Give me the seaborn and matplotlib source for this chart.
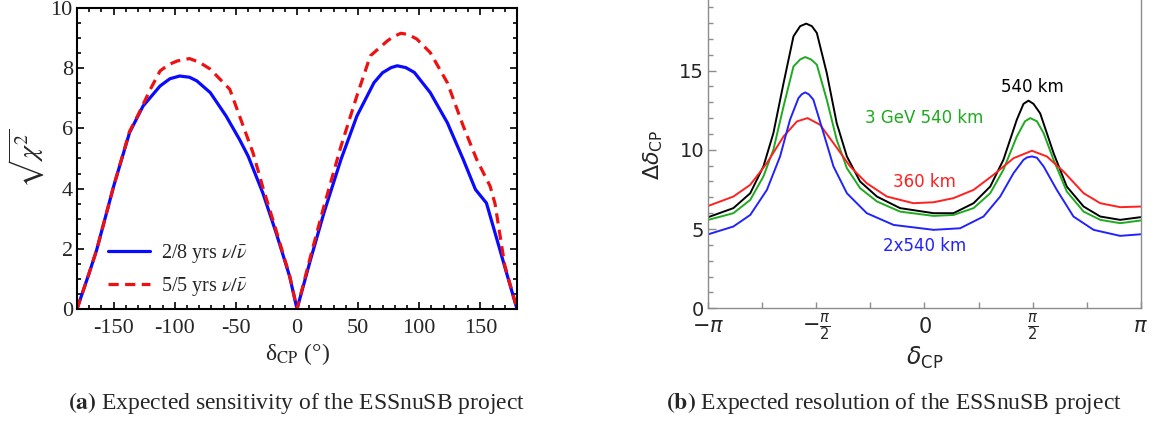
import numpy as np
import pandas as pd
import matplotlib
matplotlib.use("Agg")
import matplotlib.pyplot as plt
import seaborn as sns
from matplotlib.ticker import MultipleLocator, FixedLocator, FixedFormatter
from matplotlib.font_manager import FontProperties

# ---------------- data: panel (a) ----------------
deg_28 = [-180, -170, -164, -150, -137, -126, -112, -104, -96, -88, -82, -71, -58,
          -47, -40, -28, -17, -6, 0, 11, 22, 36, 49, 63, 70, 77, 82, 89, 96, 109,
          123, 136, 146, 155, 166, 170, 180]
chi_28 = [0, 1.2, 1.95, 4.08, 5.86, 6.74, 7.41, 7.65, 7.74, 7.7, 7.58, 7.19, 6.41,
          5.63, 5.08, 3.86, 2.52, 1.08, 0, 1.63, 3.19, 4.97, 6.41, 7.52, 7.85, 8.02,
          8.08, 8.02, 7.86, 7.19, 6.19, 4.97, 3.97, 3.52, 1.97, 1.4, 0]
deg_55 = [-180, -170, -164, -150, -137, -130, -120, -112, -105, -98, -88, -80, -71,
          -55, -47, -36, -28, -17, -6, 0, 11, 22, 36, 49, 60, 74, 79, 85, 91, 98,
          109, 123, 136, 147, 158, 162, 170, 180]
chi_55 = [0, 1.2, 1.95, 4.08, 5.9, 6.45, 7.3, 7.91, 8.12, 8.24, 8.32, 8.2, 7.97,
          7.3, 6.41, 5.19, 4.05, 2.6, 1.1, 0, 1.74, 3.41, 5.41, 7.08, 8.41, 8.91,
          9.05, 9.16, 9.12, 8.97, 8.52, 7.52, 6.08, 4.97, 4.08, 3.5, 1.45, 0]
label_28 = r"2/8 yrs $\nu/\bar{\nu}$"
label_55 = r"5/5 yrs $\nu/\bar{\nu}$"
xticks_a = [-150, -100, -50, 0, 50, 100, 150]
yticks_a = [0, 2, 4, 6, 8, 10]

# ---------------- data: panel (b) (x in units of pi) ----------------
u_540 = [-1, -0.884, -0.806, -0.745, -0.699, -0.652, -0.606, -0.575, -0.547, -0.521,
         -0.498, -0.452, -0.406, -0.359, -0.298, -0.22, -0.113, 0.042, 0.134, 0.227,
         0.304, 0.365, 0.427, 0.458, 0.481, 0.504, 0.535, 0.597, 0.658, 0.736,
         0.813, 0.905, 1]
d_540 = [5.75, 6.32, 7.26, 8.95, 11.05, 14.2, 17.16, 17.8, 17.96, 17.8, 17.37,
         14.84, 11.68, 9.58, 8.0, 7.05, 6.32, 6.0, 6.0, 6.63, 7.68, 9.37, 11.9,
         12.9, 13.1, 12.9, 12.3, 9.79, 7.68, 6.42, 5.79, 5.58, 5.75]
u_3gev = [-1, -0.884, -0.806, -0.745, -0.699, -0.652, -0.606, -0.575, -0.552, -0.525,
          -0.498, -0.452, -0.406, -0.359, -0.298, -0.22, -0.113, 0.042, 0.134, 0.227,
          0.304, 0.365, 0.427, 0.465, 0.489, 0.52, 0.551, 0.597, 0.658, 0.736,
          0.813, 0.905, 1]
d_3gev = [5.58, 6.0, 6.84, 8.32, 10.0, 12.74, 15.26, 15.7, 15.85, 15.7, 15.37,
          13.16, 10.63, 8.84, 7.58, 6.74, 6.1, 5.83, 5.89, 6.32, 7.26, 8.74, 10.84,
          11.8, 12.0, 11.8, 11.05, 9.37, 7.37, 6.1, 5.58, 5.37, 5.54]
u_360 = [-1, -0.884, -0.806, -0.729, -0.652, -0.590, -0.541, -0.483, -0.421, -0.344,
         -0.267, -0.174, -0.051, 0.042, 0.134, 0.227, 0.319, 0.412, 0.497, 0.566,
         0.643, 0.736, 0.813, 0.905, 1]
d_360 = [6.46, 7.05, 7.79, 9.16, 10.84, 11.79, 12.0, 11.58, 10.42, 8.95, 7.89, 7.05,
         6.63, 6.69, 6.95, 7.47, 8.42, 9.47, 9.94, 9.58, 8.63, 7.26, 6.63, 6.38, 6.42]
u_2x = [-1, -0.884, -0.806, -0.729, -0.668, -0.622, -0.583, -0.568, -0.552, -0.535,
        -0.514, -0.467, -0.421, -0.359, -0.267, -0.143, 0.042, 0.165, 0.273, 0.350,
        0.412, 0.458, 0.475, 0.497, 0.52, 0.551, 0.612, 0.689, 0.782, 0.905, 1]
d_2x = [4.67, 5.16, 5.89, 7.47, 9.58, 11.9, 13.26, 13.5, 13.62, 13.5, 13.16, 11.05,
        8.95, 7.26, 6.0, 5.26, 4.95, 5.05, 5.79, 7.05, 8.53, 9.37, 9.52, 9.58, 9.5,
        8.95, 7.47, 5.79, 4.95, 4.57, 4.67]
names_b = ["540 km", "3 GeV 540 km", "360 km", "2x540 km"]
colors_b = ["#000000", "#1faa1f", "#ff2020", "#2222ff"]
xtick_labels_b = [r"$-\pi$", r"$-\frac{\pi}{2}$", r"$0$", r"$\frac{\pi}{2}$", r"$\pi$"]
yticks_b = [0, 5, 10, 15]

# ---------------- style ----------------
sns.set_style("ticks")
plt.rcParams["font.family"] = ["Liberation Serif", "DejaVu Serif"]
plt.rcParams["mathtext.fontset"] = "stix"
plt.rcParams["axes.unicode_minus"] = False

fig = plt.figure(figsize=(11.6, 4.23), dpi=100)

# ================= panel (a) =================
axa = fig.add_axes([77 / 1160, 114 / 423, 440 / 1160, 301 / 423])
df28 = pd.DataFrame({"x": deg_28, "y": chi_28})
df55 = pd.DataFrame({"x": deg_55, "y": chi_55})
sns.lineplot(data=df28, x="x", y="y", ax=axa, color="#0a0aff", lw=2.3,
             label=label_28, sort=False, estimator=None)
sns.lineplot(data=df55, x="x", y="y", ax=axa, color="#ee1111", lw=2.3,
             label=label_55, sort=False, estimator=None)
axa.lines[1].set_dashes([3.2, 2.0])
axa.set_xlim(-180, 180)
axa.set_ylim(0, 10)
axa.xaxis.set_major_locator(FixedLocator(xticks_a))
axa.xaxis.set_major_formatter(FixedFormatter([str(v) for v in xticks_a]))
axa.xaxis.set_minor_locator(MultipleLocator(10))
axa.yaxis.set_major_locator(FixedLocator(yticks_a))
axa.yaxis.set_major_formatter(FixedFormatter([str(v) for v in yticks_a]))
axa.yaxis.set_minor_locator(MultipleLocator(0.5))
axa.tick_params(which="both", direction="in", top=True, right=True, color="black",
                width=1.2)
axa.tick_params(which="major", length=5)
axa.tick_params(which="minor", length=3)
axa.tick_params(axis="x", which="major", labelsize=16, pad=7)
axa.tick_params(axis="y", which="major", labelsize=16, pad=3)
for s in axa.spines.values():
    s.set_color("black")
    s.set_linewidth(1.5)
axa.set_xlabel(r"δ$_{\rm CP}$ (°)", fontsize=17)
axa.xaxis.set_label_coords(0.5, -0.108)
axa.set_ylabel(r"$\sqrt{\chi^2}$", fontsize=20)
axa.yaxis.set_label_coords(-0.068, 0.5)
axa.legend(loc="center left", bbox_to_anchor=(0.07, 0.13), frameon=False,
           prop=FontProperties(family="Liberation Serif", size=14.5),
           handlelength=2.1, handletextpad=0.55, labelspacing=0.5,
           borderpad=0, borderaxespad=0)

# ================= panel (b) =================
axb = fig.add_axes([708.3 / 1160, 114.7 / 423, 432.4 / 1160, 308.3 / 423])
series = [(u_540, d_540), (u_3gev, d_3gev), (u_360, d_360), (u_2x, d_2x)]
for (u, d), name, col in zip(series, names_b, colors_b):
    dfb = pd.DataFrame({"x": np.array(u) * np.pi, "y": d})
    sns.lineplot(data=dfb, x="x", y="y", ax=axb, color=col, lw=1.4,
                 sort=False, estimator=None, legend=False)
axb.set_xlim(-np.pi, np.pi)
axb.set_ylim(0, 19.45)
axb.xaxis.set_major_locator(FixedLocator([-np.pi, -np.pi / 2, 0, np.pi / 2, np.pi]))
axb.xaxis.set_major_formatter(FixedFormatter(xtick_labels_b))
axb.xaxis.set_minor_locator(FixedLocator([-3 * np.pi / 4, -np.pi / 4, np.pi / 4,
                                          3 * np.pi / 4]))
axb.yaxis.set_major_locator(FixedLocator(yticks_b))
axb.yaxis.set_major_formatter(FixedFormatter([str(v) for v in yticks_b]))
axb.yaxis.set_minor_locator(MultipleLocator(1))
axb.tick_params(which="both", direction="in", color="#8c8c8c", width=1.0)
axb.tick_params(axis="y", which="major", length=6)
axb.tick_params(axis="y", which="minor", length=3.5)
axb.tick_params(axis="x", which="both", length=4)
axb.tick_params(axis="x", which="major", labelsize=15, pad=14)
axb.tick_params(axis="y", which="major", labelsize=14, pad=3)
for side, s in axb.spines.items():
    s.set_color("#8c8c8c")
    s.set_linewidth(1.0)
axb.spines["top"].set_visible(False)
fig.canvas.draw()
for t in axb.get_xticklabels():
    t.set_math_fontfamily("dejavusans")
    t.set_verticalalignment("center")
for t in axb.get_yticklabels():
    t.set_fontfamily("DejaVu Sans")
axb.set_xlabel(r"$\delta_{\mathrm{CP}}$", fontsize=17, math_fontfamily="dejavusans")
axb.xaxis.set_label_coords(0.5, -0.118)
axb.set_ylabel(r"$\Delta\delta_{\mathrm{CP}}$", fontsize=16,
               math_fontfamily="dejavusans")
axb.yaxis.set_label_coords(-0.1, 0.497)

label_pos = [(0.5 * np.pi, 13.96), (0.0, 12.0), (0.0, 7.97), (0.0, 3.93)]
for (x, y), name, col in zip(label_pos, names_b, colors_b):
    axb.text(x, y, name, color=col, fontsize=12, family="DejaVu Sans",
             ha="center", va="center")

# ================= captions =================
fig.text(297 / 1160, 20 / 423, r"$\mathbf{(a)}$ Expected sensitivity of the ESSnuSB project",
         ha="center", va="center", fontsize=17, family="Liberation Serif")
fig.text(894 / 1160, 20 / 423, r"$\mathbf{(b)}$ Expected resolution of the ESSnuSB project",
         ha="center", va="center", fontsize=17, family="Liberation Serif")

fig.savefig("out.png", dpi=100)
